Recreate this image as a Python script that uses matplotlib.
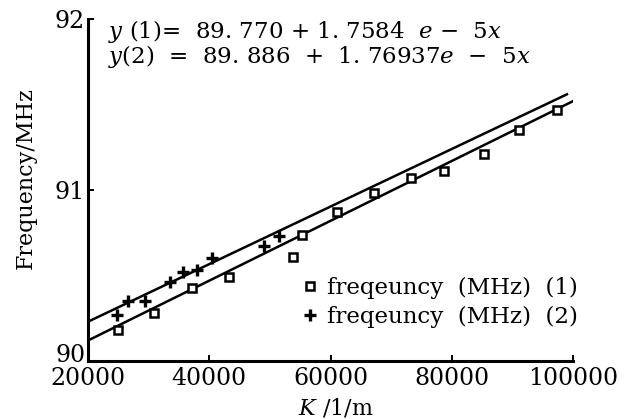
import numpy as np
import matplotlib
matplotlib.use("Agg")
import matplotlib.pyplot as plt
from matplotlib.transforms import ScaledTranslation

plt.rcParams['font.family'] = ['DejaVu Serif']
plt.rcParams['mathtext.fontset'] = 'dejavuserif'

# measured points, series (1) squares
k1 = [24970, 30930, 37220, 43180, 53780, 55270, 61070, 67200, 73320, 78790, 85250, 91050, 97340]
f1 = [90.18, 90.28, 90.43, 90.49, 90.61, 90.74, 90.87, 90.98, 91.07, 91.11, 91.21, 91.35, 91.47]

# measured points, series (2) plus
k2 = [24800, 26620, 29440, 33580, 35730, 38050, 40530, 48980, 51460]
f2 = [90.27, 90.35, 90.35, 90.46, 90.52, 90.53, 90.60, 90.67, 90.73]

# fitted lines as drawn (end points)
line1_k = [20000, 100000]
line1_f = [90.12, 91.52]
line2_k = [20000, 99000]
line2_f = [90.23, 91.56]

eq1 = r"$y$ (1)=  89. 770 + 1. 7584  $e$ $-$  5$x$"
eq2 = r"$y$(2)  =  89. 886  +  1. 76937$e$  $-$  5$x$"
lab1 = "freqeuncy  (MHz)  (1)"
lab2 = "freqeuncy  (MHz)  (2)"

fig = plt.figure(figsize=(6.25, 4.19), dpi=100)
ax = fig.add_axes([0.1408, 0.1384, 0.776, 0.816])

ax.plot(line1_k, line1_f, c="black", lw=1.8)
ax.plot(line2_k, line2_f, c="black", lw=1.8)
ax.plot(k1, f1, ls="none", marker="s", ms=6, mfc="white", mec="black", mew=1.8, label=lab1)
ax.plot(k2, f2, ls="none", marker="+", ms=8, mec="black", mew=2.4, label=lab2)

ax.set_xlim(20000, 100000)
ax.set_ylim(90, 92)
ax.set_xticks([20000, 40000, 60000, 80000, 100000])
ax.set_yticks([90, 91, 92])
ax.tick_params(direction="in", length=4, width=1.4, labelsize=17, pad=2)
ax.tick_params(axis="x", pad=4)
for s in ["top", "right"]:
    ax.spines[s].set_visible(False)
for s in ["left", "bottom"]:
    ax.spines[s].set_linewidth(2.2)

# raise the "90" label a bit so it sits above the x labels
fig.canvas.draw()
lbl90 = ax.get_yticklabels()[0]
lbl90.set_transform(lbl90.get_transform() + ScaledTranslation(0, 6 / 72, fig.dpi_scale_trans))

ax.set_xlabel(r"$K$ /1/m", fontsize=16)
ax.xaxis.set_label_coords(0.511, -0.105)
ax.set_ylabel("Frequency/MHz", fontsize=16)
ax.yaxis.set_label_coords(-0.105, 0.535)

ax.text(0.041, 0.944, eq1, transform=ax.transAxes, fontsize=16.5, va="baseline")
ax.text(0.041, 0.871, eq2, transform=ax.transAxes, fontsize=16.5, va="baseline")

ax.legend(loc="upper left", bbox_to_anchor=(0.443, 0.245), frameon=False, fontsize=16.5,
          borderpad=0, borderaxespad=0, handlelength=0.6, handletextpad=0.45,
          labelspacing=0.3)

fig.savefig("out.png", dpi=100)
